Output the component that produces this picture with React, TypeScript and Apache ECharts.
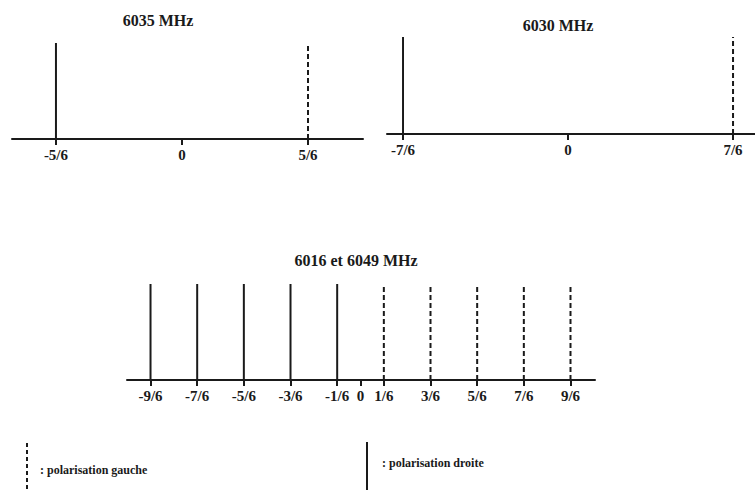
import React, { useEffect, useRef } from "react";
import * as echarts from "echarts";

// Panel titles
const titles = ["6035 MHz", "6030 MHz", "6016 et 6049 MHz"];

// Panel 1 : 6035 MHz
const p1Ticks = [-5 / 6, 0, 5 / 6];
const p1TickLabels = ["-5/6", "0", "5/6"];
const p1Lines = [-5 / 6, 5 / 6];
const p1Heights = [1, 1];
const p1Polar = ["droite", "gauche"];

// Panel 2 : 6030 MHz
const p2Ticks = [-7 / 6, 0, 7 / 6];
const p2TickLabels = ["-7/6", "0", "7/6"];
const p2Lines = [-7 / 6, 7 / 6];
const p2Heights = [1, 1];
const p2Polar = ["droite", "gauche"];

// Panel 3 : 6016 et 6049 MHz
const p3Ticks = [-9 / 6, -7 / 6, -5 / 6, -3 / 6, -1 / 6, 0, 1 / 6, 3 / 6, 5 / 6, 7 / 6, 9 / 6];
const p3TickLabels = ["-9/6", "-7/6", "-5/6", "-3/6", "-1/6", "0", "1/6", "3/6", "5/6", "7/6", "9/6"];
const p3Lines = [-9 / 6, -7 / 6, -5 / 6, -3 / 6, -1 / 6, 1 / 6, 3 / 6, 5 / 6, 7 / 6, 9 / 6];
const p3Heights = [1, 1, 1, 1, 1, 1, 1, 1, 1, 1];
const p3Polar = ["droite", "droite", "droite", "droite", "droite", "gauche", "gauche", "gauche", "gauche", "gauche"];

// Legend
const legendLabels = [": polarisation gauche", ": polarisation droite"];

const FONT = "'Liberation Serif', 'DejaVu Serif', serif";
const INK = "#1a1a1a";

function labelFor(ticks: number[], labels: string[]) {
  return (v: number) => {
    let best = 0;
    let bd = Infinity;
    ticks.forEach((t, i) => {
      const d = Math.abs(t - v);
      if (d < bd) {
        bd = d;
        best = i;
      }
    });
    return labels[best];
  };
}

function xAxisFor(idx: number, min: number, max: number, ticks: number[], labels: string[]) {
  return {
    type: "value",
    gridIndex: idx,
    min,
    max,
    splitLine: { show: false },
    axisLine: { show: true, onZero: false, lineStyle: { color: INK, width: 2 } },
    axisTick: {
      show: true,
      customValues: ticks,
      length: 6,
      inside: false,
      lineStyle: { color: INK, width: 2 },
    },
    axisLabel: {
      show: true,
      customValues: ticks,
      margin: 8,
      color: INK,
      fontFamily: FONT,
      fontWeight: "bold",
      fontSize: 15,
      formatter: labelFor(ticks, labels),
    },
  };
}

function yAxisFor(idx: number) {
  return {
    type: "value",
    gridIndex: idx,
    min: 0,
    max: 1,
    show: false,
  };
}

function linesSeries(idx: number, xs: number[], hs: number[], pol: string[]) {
  return {
    type: "custom",
    xAxisIndex: idx,
    yAxisIndex: idx,
    clip: false,
    data: xs.map((x, i) => [x, hs[i], pol[i] === "gauche" ? 1 : 0]),
    renderItem: (_params: any, api: any) => {
      const x = api.value(0);
      const h = api.value(1);
      const dashed = api.value(2) === 1;
      const p0 = api.coord([x, 0]);
      const p1 = api.coord([x, h]);
      return {
        type: "line",
        shape: { x1: p0[0], y1: p0[1], x2: p1[0], y2: p1[1] },
        style: {
          stroke: INK,
          lineWidth: 2,
          lineDash: dashed ? [5, 3] : null,
        },
      };
    },
  };
}

function titleText(x: number, y: number, text: string) {
  return {
    type: "text",
    x,
    y,
    style: {
      text,
      font: `bold 16px ${FONT}`,
      fill: INK,
      textAlign: "center",
      textVerticalAlign: "middle",
    },
  };
}

export default function App() {
  const ref = useRef<HTMLDivElement>(null);

  useEffect(() => {
    if (!ref.current) return;
    const chart = echarts.init(ref.current, null, { renderer: "svg" });
    const option: any = {
      animation: false,
      backgroundColor: "#ffffff",
      grid: [
        { left: 12, width: 351, top: 43, height: 96 },
        { left: 387, width: 368, top: 37, height: 97 },
        { left: 127, width: 468, top: 284, height: 96 },
      ],
      xAxis: [
        xAxisFor(0, -1.124, 1.197, p1Ticks, p1TickLabels),
        xAxisFor(1, -1.28, 1.322, p2Ticks, p2TickLabels),
        xAxisFor(2, -1.668, 1.675, p3Ticks, p3TickLabels),
      ],
      yAxis: [yAxisFor(0), yAxisFor(1), yAxisFor(2)],
      series: [
        linesSeries(0, p1Lines, p1Heights, p1Polar),
        linesSeries(1, p2Lines, p2Heights, p2Polar),
        linesSeries(2, p3Lines, p3Heights, p3Polar),
      ],
      graphic: [
        titleText(158, 20, titles[0]),
        titleText(558, 25, titles[1]),
        titleText(356, 260, titles[2]),
        {
          type: "line",
          shape: { x1: 27, y1: 443, x2: 27, y2: 490 },
          style: { stroke: INK, lineWidth: 2, lineDash: [4, 3] },
        },
        {
          type: "text",
          x: 40,
          y: 470,
          style: {
            text: legendLabels[0],
            font: `bold 12px ${FONT}`,
            fill: INK,
            textAlign: "left",
            textVerticalAlign: "middle",
          },
        },
        {
          type: "line",
          shape: { x1: 367, y1: 442, x2: 367, y2: 490 },
          style: { stroke: INK, lineWidth: 2 },
        },
        {
          type: "text",
          x: 382,
          y: 463,
          style: {
            text: legendLabels[1],
            font: `bold 12px ${FONT}`,
            fill: INK,
            textAlign: "left",
            textVerticalAlign: "middle",
          },
        },
      ],
    };
    chart.setOption(option);
    return () => chart.dispose();
  }, []);

  return (
    <div
      ref={ref}
      style={{ position: "fixed", left: 0, top: 0, width: 755, height: 490, background: "#fff" }}
    />
  );
}
